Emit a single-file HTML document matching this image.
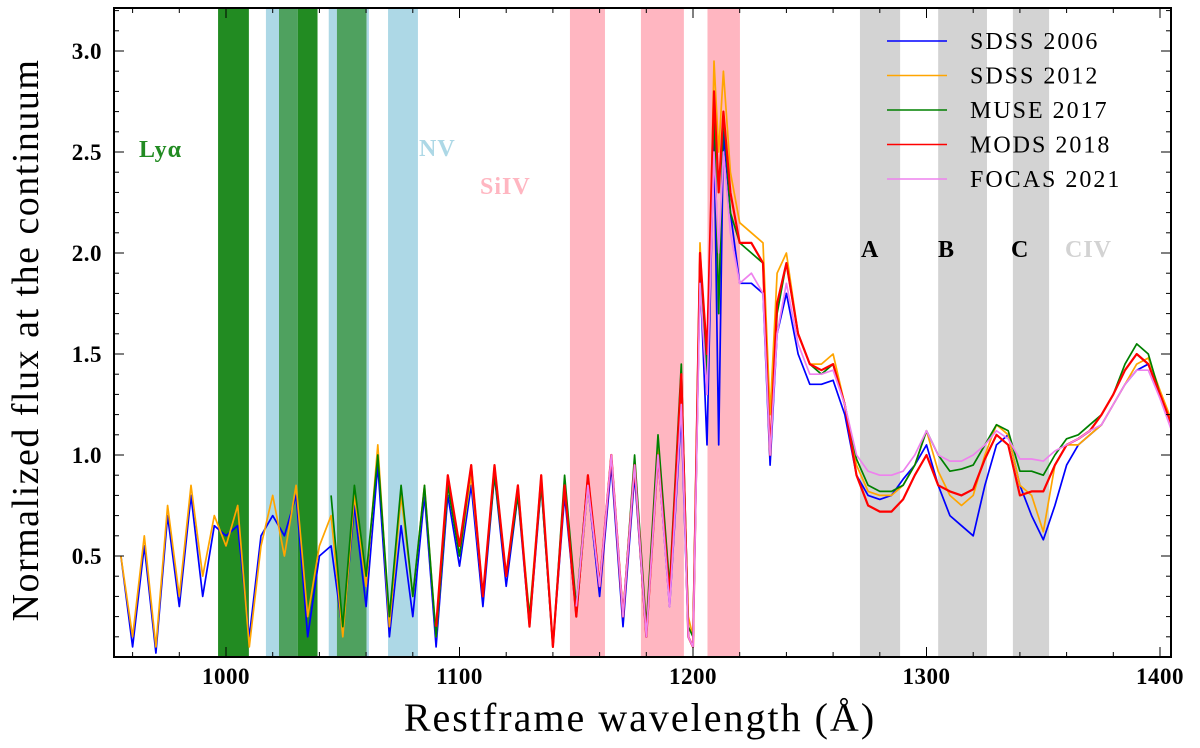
<!DOCTYPE html>
<html><head><meta charset="utf-8">
<style>
body{margin:0;background:#fff;}
svg{display:block;font-family:"Liberation Serif",serif;}
</style></head>
<body>
<svg id="chart" width="1200" height="748" viewBox="0 0 1200 748" xmlns="http://www.w3.org/2000/svg">
<defs><clipPath id="clip"><rect x="114" y="8" width="1057" height="649"/></clipPath></defs>
<g id="bands" clip-path="url(#clip)"></g>
<g id="labels"></g>
<g id="lines" clip-path="url(#clip)"></g>
<g id="axes"></g>
<g id="legend"></g>
</svg>
<script>
const wavelengths=[955,960,965,970,975,980,985,990,995,1000,1005,1010,1015,1020,1025,1030,1035,1040,1045,1050,1055,1060,1065,1070,1075,1080,1085,1090,1095,1100,1105,1110,1115,1120,1125,1130,1135,1140,1145,1150,1155,1160,1165,1170,1175,1180,1185,1190,1195,
1198,1200,1203,1206,1209,1211,1213,1216,1220,1225,1230,1233,1236,1240,
1245,1250,1255,1260,1265,1270,1275,1280,1285,1290,1295,1300,1305,1310,1315,1320,1325,1330,1335,1340,1345,1350,1355,1360,1365,1370,1375,1380,1385,1390,1395,1400,1405];
const N=null;
const sdss2006=[0.5,0.05,0.55,0.02,0.7,0.25,0.8,0.3,0.65,0.6,0.65,0.1,0.6,0.7,0.6,0.8,0.1,0.5,0.55,0.12,0.75,0.25,0.95,0.1,0.65,0.2,0.8,0.05,0.8,0.45,0.85,0.25,0.9,0.35,0.8,0.15,0.85,0.05,0.8,0.2,0.85,0.3,0.95,0.15,0.9,0.1,1.0,0.25,1.2,
0.1,0.05,1.9,1.05,2.6,1.05,2.6,2.2,1.85,1.85,1.8,0.95,1.6,1.8,
1.5,1.35,1.35,1.37,1.2,0.9,0.8,0.78,0.8,0.88,0.95,1.05,0.85,0.7,0.65,0.6,0.85,1.05,1.1,0.85,0.7,0.58,0.75,0.95,1.05,1.1,1.15,1.25,1.35,1.42,1.45,1.3,1.15];
const sdss2012=[0.5,0.1,0.6,0.05,0.75,0.3,0.85,0.4,0.7,0.55,0.75,0.05,0.55,0.8,0.5,0.85,0.2,0.55,0.7,0.1,0.8,0.35,1.05,0.15,0.8,0.3,0.85,0.1,0.85,0.5,0.9,0.3,0.95,0.4,0.85,0.2,0.9,0.05,0.85,0.2,0.85,0.35,1.0,0.2,0.95,0.1,1.05,0.3,1.3,
0.2,0.1,2.05,1.3,2.95,2.5,2.9,2.4,2.15,2.1,2.05,1.2,1.9,2.0,
1.6,1.45,1.45,1.5,1.25,0.95,0.82,0.8,0.8,0.85,0.95,1.12,0.92,0.8,0.75,0.8,1.0,1.15,1.1,0.85,0.8,0.62,0.95,1.05,1.05,1.1,1.15,1.25,1.35,1.45,1.48,1.32,1.17];
const muse2017=[N,N,N,N,N,N,N,N,N,N,N,N,N,N,N,N,N,N,0.8,0.15,0.85,0.4,1.0,0.2,0.85,0.3,0.85,0.1,0.85,0.5,0.95,0.3,0.9,0.4,0.8,0.2,0.85,0.05,0.9,0.25,0.9,0.35,1.0,0.2,1.0,0.15,1.1,0.35,1.45,
0.15,0.1,2.0,1.4,2.75,1.7,2.7,2.2,2.05,2.0,1.95,1.0,1.7,1.95,
1.6,1.45,1.4,1.45,1.25,0.98,0.85,0.82,0.82,0.85,0.95,1.12,1.0,0.92,0.93,0.95,1.05,1.15,1.12,0.92,0.92,0.9,1.0,1.08,1.1,1.15,1.2,1.3,1.45,1.55,1.5,1.3,1.15];
const mods2018=[N,N,N,N,N,N,N,N,N,N,N,N,N,N,N,N,N,N,N,N,N,N,N,N,N,N,N,0.15,0.9,0.55,0.95,0.3,0.95,0.4,0.85,0.15,0.9,0.05,0.85,0.2,0.9,0.35,1.0,0.2,0.95,0.1,1.0,0.3,1.4,
0.1,0.05,2.0,1.5,2.8,2.3,2.7,2.3,2.05,2.05,1.95,1.0,1.75,1.95,
1.6,1.45,1.42,1.45,1.25,0.9,0.75,0.72,0.72,0.78,0.9,1.0,0.85,0.82,0.8,0.83,0.98,1.1,1.05,0.8,0.82,0.82,0.95,1.05,1.08,1.12,1.2,1.3,1.42,1.5,1.45,1.3,1.15];
const focas2021=[N,N,N,N,N,N,N,N,N,N,N,N,N,N,N,N,N,N,N,N,N,N,N,N,N,N,N,N,N,N,N,N,N,N,N,N,N,N,N,0.25,0.85,0.35,1.0,0.2,0.95,0.1,1.0,0.25,1.25,
0.1,0.05,1.85,1.3,2.5,2.0,2.5,2.1,1.85,1.9,1.8,1.0,1.6,1.85,
1.55,1.4,1.4,1.42,1.25,1.0,0.92,0.9,0.9,0.92,1.0,1.12,1.0,0.97,0.97,1.0,1.05,1.12,1.08,0.98,0.98,0.97,1.02,1.05,1.08,1.12,1.15,1.25,1.35,1.42,1.42,1.28,1.12];
const seriesNames=["SDSS 2006","SDSS 2012","MUSE 2017","MODS 2018","FOCAS 2021"];
const seriesColors=["#0000ff","#ffa500","#008000","#ff0000","#ee82ee"];
const seriesData=[sdss2006,sdss2012,muse2017,mods2018,focas2021];
const bandStarts=[996.6,1017.1,1022.7,1030.8,1044,1047.5,1060.2,1069.4,1147.3,1177.7,1206.2,1271.5,1305,1337];
const bandEnds=[1009.8,1022.7,1030.8,1039.2,1047.5,1060.2,1061.2,1082.2,1162.3,1196.1,1220.1,1288.7,1325.9,1352.5];
const bandColors=["#228b22","#add8e6","#4fa15f","#228b22","#add8e6","#4fa15f","#add8e6","#add8e6","#ffb6c1","#ffb6c1","#ffb6c1","#d3d3d3","#d3d3d3","#d3d3d3"];
const xTicks=[1000,1100,1200,1300,1400];
const yTicks=[0.5,1.0,1.5,2.0,2.5,3.0];

const X=w=>226+(w-1000)*2.335;
const Y=v=>657-202*v;
const NS="http://www.w3.org/2000/svg";
function mk(tag,parent,attrs,text){const e=document.createElementNS(NS,tag);for(const k in attrs)e.setAttribute(k,attrs[k]);if(text!==undefined)e.textContent=text;parent.appendChild(e);return e;}

const bands=document.getElementById('bands');
bandStarts.forEach((s,i)=>{
  const r=mk('rect',bands,{x:X(s),y:8,width:X(bandEnds[i])-X(s),height:649,fill:bandColors[i]});
  
  
});
const labels=document.getElementById('labels');
const lab=[["Lyα",139,157,"#228b22"],["NV",419,156,"#add8e6"],["SiIV",480,194,"#ffb6c1"],["A",861,257,"#000"],["B",938,257,"#000"],["C",1011,257,"#000"],["CIV",1065,257,"#d3d3d3"]];
lab.forEach(l=>{
  const t=mk('text',labels,{x:l[1],y:l[2],fill:l[3],'font-size':24,'font-weight':'bold','letter-spacing':1},l[0]);
  
  
});

const lines=document.getElementById('lines');
seriesData.forEach((d,si)=>{
  let p="";let pen=false;
  d.forEach((v,i)=>{ if(v===null){pen=false;return;} p+=(pen?"L":"M")+X(wavelengths[i]).toFixed(1)+","+Y(v).toFixed(1); pen=true;});
  const e=mk('path',lines,{d:p,fill:'none',stroke:seriesColors[si],'stroke-width':si===3?2.2:1.7,'stroke-linejoin':'round'});
  
  
});

const axes=document.getElementById('axes');
const frame=mk('rect',axes,{x:114,y:8,width:1057,height:649,fill:'none',stroke:'#000','stroke-width':2});


for(let w=960;w<=1400;w+=20){
  const major=w%100===0;const L=major?10:5;
  mk('line',axes,{x1:X(w),x2:X(w),y1:657,y2:657-L,stroke:'#000','stroke-width':1});
  mk('line',axes,{x1:X(w),x2:X(w),y1:8,y2:8+L,stroke:'#000','stroke-width':1});
}
for(let k=1;k<=32;k++){
  const v=k/10;const major=k%5===0;const L=major?10:5;
  mk('line',axes,{x1:114,x2:114+L,y1:Y(v),y2:Y(v),stroke:'#000','stroke-width':1});
  mk('line',axes,{x1:1171,x2:1171-L,y1:Y(v),y2:Y(v),stroke:'#000','stroke-width':1});
}
xTicks.forEach(w=>{
  const t=mk('text',axes,{x:X(w),y:684,'text-anchor':'middle','font-size':23,'font-weight':'bold','letter-spacing':0.5},String(w));
  
  
});
yTicks.forEach(v=>{
  const t=mk('text',axes,{x:102,y:Y(v)+8,'text-anchor':'end','font-size':23,'font-weight':'bold','letter-spacing':0.5},v.toFixed(1));
  
  
});
const xt=mk('text',axes,{x:640,y:731,'text-anchor':'middle','font-size':40,'letter-spacing':2},"Restframe wavelength (Å)");


const yt=mk('text',axes,{x:0,y:0,'text-anchor':'middle','font-size':38,'letter-spacing':1.5,transform:'translate(38,340) rotate(-90)'},"Normalized flux at the continuum");



const legend=document.getElementById('legend');
seriesNames.forEach((n,i)=>{
  const yy=41+i*34.5;
  const g=mk('g',legend,{});
  
  
  mk('line',g,{x1:887,x2:947,y1:yy,y2:yy,stroke:seriesColors[i],'stroke-width':1.5});
  mk('text',g,{x:970,y:yy+8,'font-size':24,'letter-spacing':2},n);
});
</script>
</body></html>
